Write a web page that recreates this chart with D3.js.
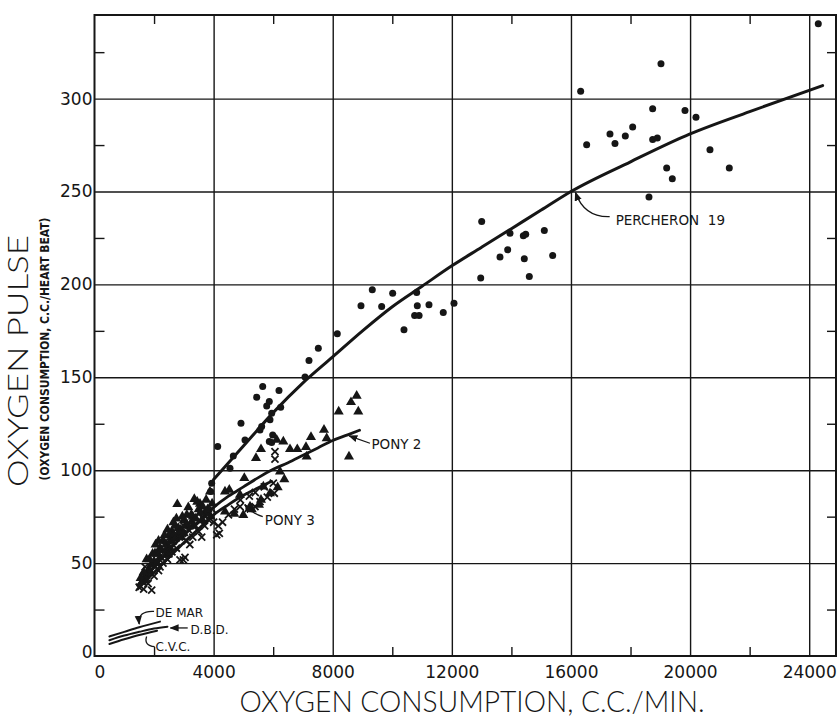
<!DOCTYPE html>
<html>
<head>
<meta charset="utf-8">
<script src="https://cdn.jsdelivr.net/npm/d3@7"></script>
<style>
  html, body { margin: 0; padding: 0; background: #fff; }
  svg { display: block; }
  text { fill: #161616; }
</style>
</head>
<body>
<svg id="chart" width="839" height="719"></svg>
<script>
// ---------------- DATA ----------------
const xTickValues = [0, 4000, 8000, 12000, 16000, 20000, 24000];
const xTickLabels = ["0", "4000", "8000", "12000", "16000", "20000", "24000"];
const yTickValues = [0, 50, 100, 150, 200, 250, 300];
const yTickLabels = ["0", "50", "100", "150", "200", "250", "300"];
const xMinorTicks = [2000, 6000, 10000, 14000, 18000, 22000];
const yMinorTicks = [25, 75, 125, 175, 225, 275, 325];

// fitted curves
const percheronCurveX = [4000, 5000, 6000, 7000, 8000, 9000, 10000, 11000, 12000, 13000, 14000, 15000, 16000, 18000, 20000, 22000, 24450];
const percheronCurveY = [95, 113, 131, 147, 161, 175, 188, 199, 210, 220, 230, 240, 250, 266, 281, 293, 307];
const pony2CurveX = [1450, 2000, 2500, 3000, 3500, 4000, 4500, 5000, 5500, 6000, 6500, 7000, 7500, 8000, 8500, 8900];
const pony2CurveY = [38, 48, 57, 65, 72.5, 80, 86, 91, 96, 100.5, 104, 108, 112, 116, 119, 121.5];
const pony3CurveX = [1450, 2000, 2500, 3000, 3500, 4000, 4500, 5000, 5500, 5950];
const pony3CurveY = [36, 45, 53, 61, 68.5, 76, 81.5, 86.5, 90.5, 94];
const deMarCurveX = [500, 1000, 1500, 2200];
const deMarCurveY = [10.5, 13, 15.5, 18.5];
const dbdCurveX = [500, 1000, 1500, 2000, 2450];
const dbdCurveY = [8.5, 11, 13, 14.8, 15.8];
const cvcCurveX = [500, 1000, 1500, 2100];
const cvcCurveY = [6.5, 9, 11.3, 13.6];

// Percheron 19 observations (dots)
const percheronX = [24305, 19023, 16326, 18743, 19829, 20198, 18072, 17310, 17825, 17478, 16527, 18744, 18900, 20668, 19214, 21317, 19403, 18620,
  13002, 13952, 14400, 14480, 15105, 13875, 13617, 14433, 15386, 12969, 14601, 10013, 10819, 9643, 10840, 11232, 12072, 11712, 10750, 10900,
  9328, 8949, 10393, 8153, 7516, 7203, 7069, 5648, 6195, 5447, 5870, 5783, 6252, 5950, 5893, 4919, 5613, 5557, 5984, 5054, 5870, 5950,
  4137, 4661, 4550, 3935, 3901];
const percheronY = [340.3, 318.8, 303.9, 294.6, 293.6, 289.9, 284.7, 280.9, 279.9, 275.9, 275.2, 278, 278.8, 272.5, 262.6, 262.6, 256.9, 247,
  233.9, 227.6, 226.2, 227, 229, 218.6, 214.7, 213.8, 215.6, 203.4, 204.3, 195.3, 195.6, 188.1, 188.5, 189, 189.9, 184.9, 183.3, 183.3,
  197.1, 188.5, 175.6, 173.4, 165.7, 159, 150.1, 145, 142.9, 139.3, 137, 134.6, 133.9, 130.7, 127.1, 125.3, 123.5, 121.7, 119, 116.3, 115.4, 114.9,
  112.7, 107.7, 101.1, 93, 88.5];

// Pony 2 observations (triangles)
const pony2X = [8804, 8613, 8858, 8200, 7707, 7270, 7797, 6341, 6118, 5591, 6565, 6810, 7102, 7125, 5423, 8546,
  6229, 5031, 4527, 6151, 6375, 5670, 5893, 4886, 4382, 5591, 5524, 5222, 4997, 4382, 4694, 5279,
  3352, 3543, 3633, 2781, 3450, 3878,
  1600, 1700, 1800, 1900, 1750, 2000, 2100, 2200, 2300, 2400, 2500, 2600, 2700, 2814, 2900, 3000, 3100, 3264, 3300, 3500, 3700, 3800, 3900,
  2200, 2500, 2900, 3300, 3600, 2031, 2424, 2646, 3100, 1864, 1696,
  1550, 1650, 1850, 1950, 2050, 2150, 2250, 2350, 2450, 2550, 2650, 2750, 2850, 2950, 3050, 3150, 3250, 3400, 3550, 3750, 3950,
  2100, 2400, 2700, 3000];
const pony2Y = [140, 136.6, 131.6, 131.6, 121.7, 117.8, 117.2, 115.4, 116.3, 111.3, 111.3, 111.3, 112.4, 107.3, 106.5, 107.3,
  99.2, 95.7, 89.4, 90.8, 95.1, 91.2, 87.6, 86.7, 88.5, 84, 81.3, 80.4, 75.9, 77.7, 76.5, 79,
  84.4, 81.9, 80.4, 81.7, 83, 88.5,
  40, 43, 46, 49, 52, 51, 55, 58, 62, 60, 65, 67, 70, 68.8, 68, 73, 76, 72.3, 75, 79, 77, 79, 75,
  53, 58, 64, 70, 73, 55.3, 54.4, 65.1, 71, 45.4, 40.9,
  42, 45, 52, 55, 60, 62, 57, 65, 68, 62, 72, 74, 66, 75, 70, 80, 76, 74, 77, 84, 82,
  50, 57, 63, 66];

// Pony 3 observations (crosses)
const pony3X = [1500, 1650, 1800, 1920, 2000, 2150, 2300, 2450, 2600, 2750, 2871, 3039, 2983, 3100, 3300, 3500, 3700, 3850,
  4104, 4158, 4192, 4300, 4500, 4700, 4886, 5166, 5390, 5557, 5803, 6038, 6005, 5400, 5700, 5200, 4900, 6060, 6060,
  2200, 2500, 3200, 3600, 4000,
  1600, 1750, 1850, 2050, 2250, 2350, 2550, 2650, 2850, 2950, 3150, 3400, 3650, 3800, 3950, 2400, 2700, 3000, 3400, 1700];
const pony3Y = [37, 36, 39, 35.5, 43, 46, 50, 52, 56, 58, 51.7, 53.1, 51.7, 62, 64, 67, 70, 73,
  65.2, 70, 66, 72, 76, 79, 80.4, 79.5, 80.4, 83.1, 85.5, 87.6, 93, 88, 91, 86, 84, 110, 106,
  48, 55, 60, 64, 72,
  40, 42, 45, 48, 53, 56, 59, 62, 64, 66, 68, 70, 74, 76, 79, 62, 66, 70, 75, 48];

// annotations (data-space anchors)
const labelNames = ["PERCHERON  19", "PONY 2", "PONY 3", "DE MAR", "D.B.D.", "C.V.C."];
const labelX = [17500, 9300, 5720, 2050, 3220, 2050];
const labelY = [232, 111.5, 70.5, 21, 12, 2.8];
// leader: start, control, end (data space)
const leaderStart = [[17300, 236.5], [9250, 114.5], [5650, 75], [2000, 24], [3130, 15.1], [2020, 5]];
const leaderCtrl  = [[16450, 236], [8900, 116.5], [5300, 76.5], [1450, 24.5], [2850, 15.1], [1650, 5.5]];
const leaderEnd   = [[16150, 249.5], [8550, 118.5], [5050, 81.5], [1500, 17.2], [2550, 15.1], [1750, 10.5]];
const leaderArrow = [true, true, true, true, true, false];

// ---------------- CHART ----------------
(function draw() {
const W = 839, H = 719;
const pL = 94.5, pR = 836, pT = 15, pB = 656;
const svg = d3.select("#chart");
svg.append("rect").attr("width", W).attr("height", H).attr("fill", "#fff");

const x = d3.scaleLinear().domain([0, 24900]).range([pL, pR]);
const y = d3.scaleLinear().domain([0, 345]).range([pB, pT]);

const ink = "#161616";
const FONT = "'DejaVu Sans', sans-serif";

// grid lines
svg.append("g").attr("transform", `translate(0,${pB})`)
  .call(d3.axisBottom(x).tickValues(xTickValues.slice(1)).tickSize(-(pB - pT)).tickFormat(""))
  .call(g => g.select(".domain").remove())
  .call(g => g.selectAll("line").attr("stroke", ink).attr("stroke-width", 1.4));
svg.append("g").attr("transform", `translate(${pL},0)`)
  .call(d3.axisLeft(y).tickValues(yTickValues.slice(1)).tickSize(-(pR - pL)).tickFormat(""))
  .call(g => g.select(".domain").remove())
  .call(g => g.selectAll("line").attr("stroke", ink).attr("stroke-width", 1.4));

// minor ticks (inward)
const minor = (axis, tr) => svg.append("g").attr("transform", tr)
  .call(axis.tickFormat(""))
  .call(g => g.select(".domain").remove())
  .call(g => g.selectAll("line").attr("stroke", ink).attr("stroke-width", 1.4));
minor(d3.axisBottom(x).tickValues(xMinorTicks).tickSize(-9), `translate(0,${pB})`);
minor(d3.axisTop(x).tickValues(xMinorTicks).tickSize(-9), `translate(0,${pT})`);
minor(d3.axisLeft(y).tickValues(yMinorTicks).tickSize(-10), `translate(${pL},0)`);
minor(d3.axisRight(y).tickValues(yMinorTicks).tickSize(-9), `translate(${pR},0)`);

// frame
svg.append("rect").attr("x", pL).attr("y", pT).attr("width", pR - pL).attr("height", pB - pT)
  .attr("fill", "none").attr("stroke", ink).attr("stroke-width", 2);

// tick labels
svg.append("g").attr("transform", `translate(0,${pB})`)
  .call(d3.axisBottom(x).tickValues(xTickValues).tickSize(0).tickPadding(10).tickFormat((d, i) => xTickLabels[i]))
  .call(g => g.select(".domain").remove())
  .call(g => g.selectAll("text").attr("font-family", FONT).attr("font-size", 17).attr("fill", ink)
    .attr("dx", (d, i) => i === 0 ? 5 : 0));
svg.append("g").attr("transform", `translate(${pL},0)`)
  .call(d3.axisLeft(y).tickValues(yTickValues).tickSize(0).tickPadding(2).tickFormat((d, i) => yTickLabels[i]))
  .call(g => g.select(".domain").remove())
  .call(g => g.selectAll("text").attr("font-family", FONT).attr("font-size", 17).attr("fill", ink)
    .attr("dy", (d, i) => i === 0 ? "0.1em" : "0.32em"));

// axis titles
svg.append("text").attr("x", 472).attr("y", 712).attr("text-anchor", "middle")
  .attr("font-family", "Lato, 'Open Sans', sans-serif").attr("font-weight", 300).attr("font-size", 29)
  .attr("textLength", 465).attr("lengthAdjust", "spacingAndGlyphs")
  .text("OXYGEN CONSUMPTION, C.C./MIN.");
svg.append("text").attr("transform", "translate(28,361) rotate(-90)").attr("text-anchor", "middle")
  .attr("font-family", "Lato, 'Open Sans', sans-serif").attr("font-weight", 300).attr("font-size", 27)
  .attr("textLength", 252).attr("lengthAdjust", "spacingAndGlyphs")
  .text("OXYGEN PULSE");
svg.append("text").attr("transform", "translate(49,349) rotate(-90)").attr("text-anchor", "middle")
  .attr("font-family", FONT).attr("font-weight", "bold").attr("font-size", 12.5)
  .attr("textLength", 263).attr("lengthAdjust", "spacingAndGlyphs")
  .text("(OXYGEN CONSUMPTION, C.C./HEART BEAT)");

// curves
const zip = (xs, ys) => xs.map((v, i) => [v, ys[i]]);
const line = d3.line().x(d => x(d[0])).y(d => y(d[1])).curve(d3.curveMonotoneX);
const curves = [
  { d: zip(percheronCurveX, percheronCurveY), w: 3 },
  { d: zip(pony2CurveX, pony2CurveY), w: 2.8 },
  { d: zip(pony3CurveX, pony3CurveY), w: 2.8 },
  { d: zip(deMarCurveX, deMarCurveY), w: 2 },
  { d: zip(dbdCurveX, dbdCurveY), w: 2 },
  { d: zip(cvcCurveX, cvcCurveY), w: 2 }
];
svg.append("g").selectAll("path").data(curves).join("path")
  .attr("d", c => line(c.d)).attr("fill", "none").attr("stroke", ink)
  .attr("stroke-width", c => c.w).attr("stroke-linecap", "round");

// points
svg.append("g").selectAll("circle").data(zip(percheronX, percheronY)).join("circle")
  .attr("cx", d => x(d[0])).attr("cy", d => y(d[1])).attr("r", 3.5).attr("fill", ink);

const tri = d3.symbol(d3.symbolTriangle, 44);
svg.append("g").selectAll("path").data(zip(pony2X, pony2Y)).join("path")
  .attr("d", tri).attr("transform", d => `translate(${x(d[0])},${y(d[1])})`).attr("fill", ink);

const hasTimes = !!d3.symbolTimes;
const crossSym = hasTimes ? d3.symbol(d3.symbolTimes, 34) : d3.symbol(d3.symbolCross, 30);
svg.append("g").selectAll("path").data(zip(pony3X, pony3Y)).join("path")
  .attr("d", crossSym)
  .attr("transform", d => `translate(${x(d[0])},${y(d[1])})` + (hasTimes ? "" : " rotate(45)"))
  .attr("fill", hasTimes ? "none" : ink).attr("stroke", ink).attr("stroke-width", 1.8);

// annotations
const defs = svg.append("defs");
defs.append("marker").attr("id", "arr").attr("viewBox", "0 0 10 10").attr("refX", 9).attr("refY", 5)
  .attr("markerWidth", 7).attr("markerHeight", 7).attr("orient", "auto-start-reverse")
  .append("path").attr("d", "M0,1 L10,5 L0,9 z").attr("fill", ink);

const ann = svg.append("g");
labelNames.forEach((name, i) => {
  const s = leaderStart[i], c = leaderCtrl[i], e = leaderEnd[i];
  const p = d3.path();
  p.moveTo(x(s[0]), y(s[1]));
  p.quadraticCurveTo(x(c[0]), y(c[1]), x(e[0]), y(e[1]));
  ann.append("path").attr("d", p.toString()).attr("fill", "none").attr("stroke", ink).attr("stroke-width", 1.3)
    .attr("marker-end", leaderArrow[i] ? "url(#arr)" : null);
  ann.append("text").attr("x", x(labelX[i])).attr("y", y(labelY[i]))
    .attr("font-family", FONT).attr("font-size", i < 3 ? 13.5 : 12).attr("fill", ink)
    .style("white-space", "pre")
    .text(name);
});
})();
</script>
</body>
</html>
